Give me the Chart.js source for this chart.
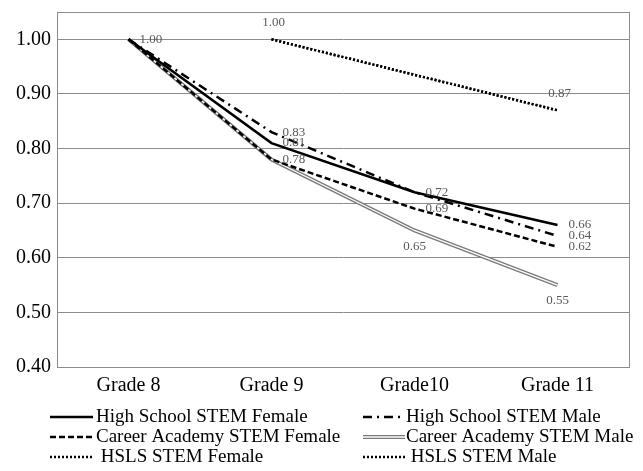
<!DOCTYPE html>
<html>
<head>
<meta charset="utf-8">
<script src="https://cdn.jsdelivr.net/npm/chart.js@4"></script>
<style>
  html, body { margin: 0; padding: 0; background: #fff; }
</style>
</head>
<body>
<canvas id="chart" width="643" height="471"></canvas>
<script>
// data
var grades = ['Grade 8', 'Grade 9', 'Grade10', 'Grade 11'];
var seriesNames = ['High School STEM Female', 'High School STEM Male', 'Career Academy STEM Female',
  'Career Academy STEM Male', 'HSLS STEM Female', 'HSLS STEM Male'];
var hsFemale = [1.00, 0.81, 0.72, 0.66];
var hsMale = [1.00, 0.83, 0.72, 0.64];
var caFemale = [1.00, 0.78, 0.69, 0.62];
var caMale = [1.00, 0.78, 0.65, 0.55];
var hslsFemale = [null, 1.00, null, 0.87];
var hslsMale = [null, 1.00, null, 0.87];
var yTicks = [0.40, 0.50, 0.60, 0.70, 0.80, 0.90, 1.00];

var serif = "'Liberation Serif', 'Times New Roman', serif";
var gridGray = '#8c8c8c';

// where the value label sits for each series
var labelPos = ['right', 'right', 'right', 'below', 'above', 'above'];

function mkSet(i, values, dash, color, width) {
  return {
    label: seriesNames[i],
    data: values,
    borderColor: color,
    borderWidth: width,
    borderDash: dash,
    pointRadius: 0,
    pointHoverRadius: 0,
    fill: false,
    tension: 0,
    spanGaps: true
  };
}

var datasets = [
  mkSet(0, hsFemale, [], '#000', 2.5),
  mkSet(1, hsMale, [9, 5, 2, 5], '#000', 2.5),
  mkSet(2, caFemale, [6, 3], '#000', 2.5),
  mkSet(3, caMale, [], '#7a7a7a', 4),
  mkSet(4, hslsFemale, [2, 2], '#000', 2.5),
  mkSet(5, hslsMale, [2, 2], '#000', 2.5)
];

// white core inside the gray line -> double line look
var doubleLine = {
  id: 'doubleLine',
  afterDatasetDraw: function(chart, args) {
    if (args.index !== 3) return;
    var pts = args.meta.data;
    var ctx = chart.ctx;
    ctx.save();
    ctx.strokeStyle = '#fff';
    ctx.lineWidth = 1.3;
    ctx.beginPath();
    pts.forEach(function(p, i) {
      if (i === 0) ctx.moveTo(p.x, p.y); else ctx.lineTo(p.x, p.y);
    });
    ctx.stroke();
    ctx.restore();
  }
};

var frameAndLabels = {
  id: 'frameAndLabels',
  afterDraw: function(chart) {
    var ctx = chart.ctx;
    var a = chart.chartArea;
    ctx.save();
    ctx.strokeStyle = gridGray;
    ctx.lineWidth = 1;
    ctx.strokeRect(Math.round(a.left) + 0.5, Math.round(a.top) + 0.5,
      Math.round(a.right - a.left), Math.round(a.bottom - a.top));

    // value labels, skipping ones that would sit on top of an identical one
    ctx.font = '13px ' + serif;
    ctx.fillStyle = '#595959';
    var done = {};
    chart.data.datasets.forEach(function(ds, di) {
      var meta = chart.getDatasetMeta(di);
      ds.data.forEach(function(v, i) {
        if (v === null) return;
        var key = i + ':' + v.toFixed(2);
        if (done[key]) return;
        done[key] = true;
        var p = meta.data[i];
        var txt = v.toFixed(2);
        var pos = labelPos[di];
        if (pos === 'right') {
          ctx.textAlign = 'left'; ctx.textBaseline = 'middle';
          ctx.fillText(txt, p.x + 11, p.y);
        } else if (pos === 'below') {
          ctx.textAlign = 'center'; ctx.textBaseline = 'middle';
          ctx.fillText(txt, p.x, p.y + 16);
        } else {
          ctx.textAlign = 'center'; ctx.textBaseline = 'middle';
          ctx.fillText(txt, p.x + 2, p.y - 17);
        }
      });
    });

    // legend in two columns
    var cols = [{ x0: 50, x1: 93, tx: 96 }, { x0: 363, x1: 405, tx: 406 }];
    var rows = [417, 437, 457];
    ctx.font = '19px ' + serif;
    ctx.fillStyle = '#000';
    ctx.textAlign = 'left';
    ctx.textBaseline = 'middle';
    chart.data.datasets.forEach(function(ds, di) {
      var c = cols[di % 2];
      var y = rows[Math.floor(di / 2)];
      ctx.save();
      ctx.strokeStyle = ds.borderColor;
      ctx.lineWidth = ds.borderWidth;
      ctx.setLineDash(ds.borderDash);
      ctx.beginPath();
      ctx.moveTo(c.x0, y);
      ctx.lineTo(c.x1, y);
      ctx.stroke();
      if (di === 3) {
        ctx.strokeStyle = '#fff';
        ctx.lineWidth = 1.3;
        ctx.beginPath();
        ctx.moveTo(c.x0, y);
        ctx.lineTo(c.x1, y);
        ctx.stroke();
      }
      ctx.restore();
      var gap = ds.borderDash.length === 2 && ds.borderDash[0] === 2 ? ' ' : '';
      ctx.fillText(gap + ds.label, c.tx, y);
    });
    ctx.restore();
  }
};

var ctx = document.getElementById('chart');
var myChart = new Chart(ctx, {
  type: 'line',
  data: { labels: grades, datasets: datasets },
  options: {
    responsive: false,
    animation: false,
    devicePixelRatio: 1,
    layout: { padding: { top: 12, right: 14, bottom: 74, left: 0 } },
    plugins: {
      legend: { display: false },
      tooltip: { enabled: false }
    },
    scales: {
      x: {
        offset: true,
        grid: { display: false, drawTicks: false },
        border: { display: true, color: gridGray },
        ticks: { color: '#000', font: { family: serif, size: 20 }, padding: 7 },
        afterFit: function(scale) { scale.height = 30; }
      },
      y: {
        min: 0.40,
        max: 1.05,
        grid: { color: gridGray, lineWidth: 1, drawTicks: false },
        border: { display: true, color: gridGray },
        ticks: {
          color: '#000',
          font: { family: serif, size: 20 },
          padding: 6,
          callback: function(v) { return Number(v).toFixed(2); }
        },
        afterBuildTicks: function(scale) {
          scale.ticks = yTicks.map(function(v) { return { value: v }; });
        },
        afterFit: function(scale) {
          scale.width = 57;
          scale.paddingTop = 0;
          scale.paddingBottom = 0;
        }
      }
    }
  },
  plugins: [doubleLine, frameAndLabels]
});
</script>
</body>
</html>
